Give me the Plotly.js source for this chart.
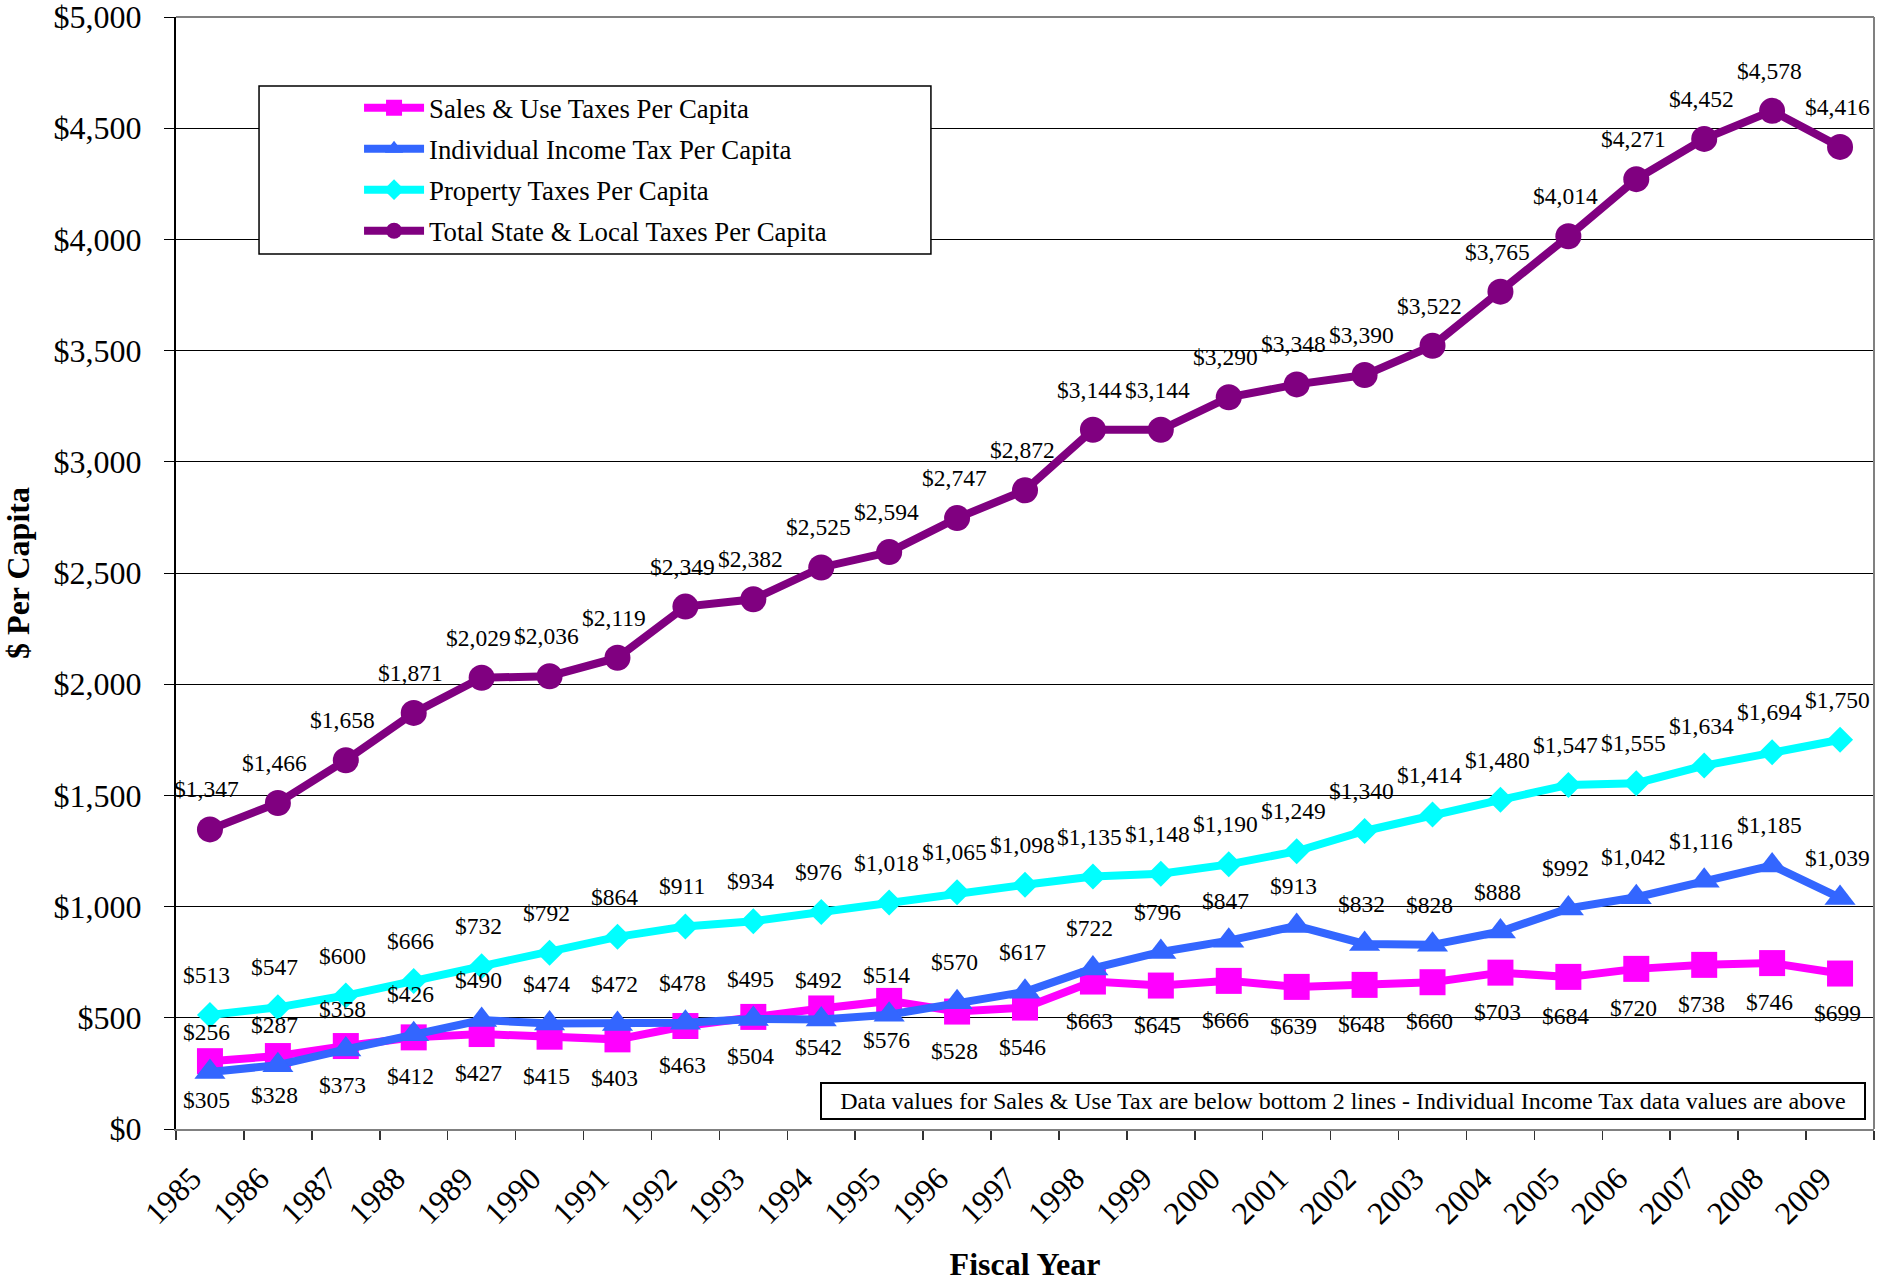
<!DOCTYPE html>
<html>
<head>
<meta charset="utf-8">
<script src="https://cdn.plot.ly/plotly-3.0.1.min.js"></script>
<style>html,body{margin:0;padding:0;background:#fff;}#chart{width:1887px;height:1282px;}</style>
</head>
<body>
<div id="chart"></div>
<script>
const years = ['1985','1986','1987','1988','1989','1990','1991','1992','1993','1994','1995','1996','1997','1998','1999','2000','2001','2002','2003','2004','2005','2006','2007','2008','2009'];
const salesUse = [305,328,373,412,427,415,403,463,504,542,576,528,546,663,645,666,639,648,660,703,684,720,738,746,699];
const incomeTax = [256,287,358,426,490,474,472,478,495,492,514,570,617,722,796,847,913,832,828,888,992,1042,1116,1185,1039];
const propertyTax = [513,547,600,666,732,792,864,911,934,976,1018,1065,1098,1135,1148,1190,1249,1340,1414,1480,1547,1555,1634,1694,1750];
const totalTax = [1347,1466,1658,1871,2029,2036,2119,2349,2382,2525,2594,2747,2872,3144,3144,3290,3348,3390,3522,3765,4014,4271,4452,4578,4416];
const seriesNames = ['Sales & Use Taxes Per Capita','Individual Income Tax Per Capita','Property Taxes Per Capita','Total State & Local Taxes Per Capita'];
const noteText = 'Data values for Sales & Use Tax are below bottom 2 lines - Individual Income Tax data values are above';

const FONT = '"Liberation Serif", "Times New Roman", Times, serif';
const fmt = v => '$' + v.toLocaleString('en-US');

function mk(name, y, color, symbol, size, group) {
  return {
    type: 'scatter', mode: 'lines+markers', name: name, x: years, y: y,
    legendgroup: group,
    line: {color: color, width: 8},
    marker: {color: color, symbol: symbol, size: size},
    hoverinfo: 'x+y'
  };
}

const traces = [
  mk(seriesNames[0], salesUse, '#FF00FF', 'square', 26, 'g1'),
  mk(seriesNames[1], incomeTax, '#3366FF', 'triangle-up', 27, 'g2'),
  mk(seriesNames[2], propertyTax, '#00FFFF', 'diamond', 20, 'g3'),
  mk(seriesNames[3], totalTax, '#800080', 'circle', 26, 'g4')
];

const annotations = [];
function addLabels(vals, shift) {
  vals.forEach((v, i) => {
    annotations.push({
      x: i, y: v, xref: 'x', yref: 'y', text: fmt(v), showarrow: false,
      xanchor: 'center', yanchor: 'middle', yshift: shift, xshift: -3,
      font: {family: FONT, size: 23.5, color: '#000'}
    });
  });
}
addLabels(salesUse, -39);
addLabels(incomeTax, 40);
addLabels(propertyTax, 40);
addLabels(totalTax, 40);

annotations.push({
  xref: 'paper', yref: 'paper', x: 0.6873, y: 0.0256, xanchor: 'center', yanchor: 'middle',
  text: noteText, showarrow: false, bordercolor: '#000', borderwidth: 2, borderpad: 3,
  bgcolor: '#fff', width: 1036, height: 28,
  font: {family: FONT, size: 24, color: '#000'}
});

const layout = {
  width: 1887, height: 1282,
  margin: {l: 176, r: 13, t: 17, b: 153, pad: 0},
  paper_bgcolor: '#fff', plot_bgcolor: '#fff',
  font: {family: FONT, color: '#000'},
  showlegend: true,
  legend: {
    x: 0.1078, y: 0.940, xanchor: 'left', yanchor: 'top',
    bgcolor: 'rgba(0,0,0,0)', borderwidth: 0,
    traceorder: 'grouped', tracegroupgap: 3.2, itemwidth: 60,
    font: {family: FONT, size: 26.8, color: '#000'}
  },
  xaxis: {
    type: 'category', range: [-0.5, 24.5], tickson: 'boundaries',
    ticks: 'outside', ticklen: 9, tickwidth: 1.5, tickcolor: '#333',
    showline: true, linecolor: '#808080', linewidth: 2,
    showgrid: false, zeroline: false, tickangle: -45,
    ticklabelshift: -18, ticklabelstandoff: 16,
    tickfont: {family: FONT, size: 32, color: '#000'},
    title: {text: '<b>Fiscal Year</b>', font: {family: FONT, size: 32, color: '#000'}, standoff: 25},
    automargin: false, fixedrange: true
  },
  yaxis: {
    range: [0, 5000], dtick: 500, tick0: 0,
    tickprefix: '$', tickformat: ',d',
    ticks: 'outside', ticklen: 10, tickwidth: 1, tickcolor: '#000',
    ticklabelstandoff: 16, ticklabeloverflow: 'allow',
    showline: true, linecolor: '#000', linewidth: 2,
    showgrid: true, gridcolor: '#000', gridwidth: 1, zeroline: false,
    tickfont: {family: FONT, size: 32, color: '#000'},
    title: {text: '<b>$ Per Capita</b>', font: {family: FONT, size: 32, color: '#000'}, standoff: 18},
    automargin: false, fixedrange: true
  },
  shapes: [
    {type: 'line', xref: 'paper', yref: 'paper', x0: 0, x1: 1, y0: 1, y1: 1, line: {color: '#808080', width: 2}, layer: 'above'},
    {type: 'line', xref: 'paper', yref: 'paper', x0: 1, x1: 1, y0: 0, y1: 1, line: {color: '#808080', width: 2}, layer: 'above'},
    {type: 'rect', xref: 'paper', yref: 'paper', x0: 0.0489, x1: 0.4446, y0: 0.7869, y1: 0.938, line: {color: '#000', width: 1.5}, fillcolor: '#fff', layer: 'above'}
  ],
  annotations: annotations
};

Plotly.newPlot('chart', traces, layout, {displayModeBar: false, staticPlot: true});
</script>
</body>
</html>
